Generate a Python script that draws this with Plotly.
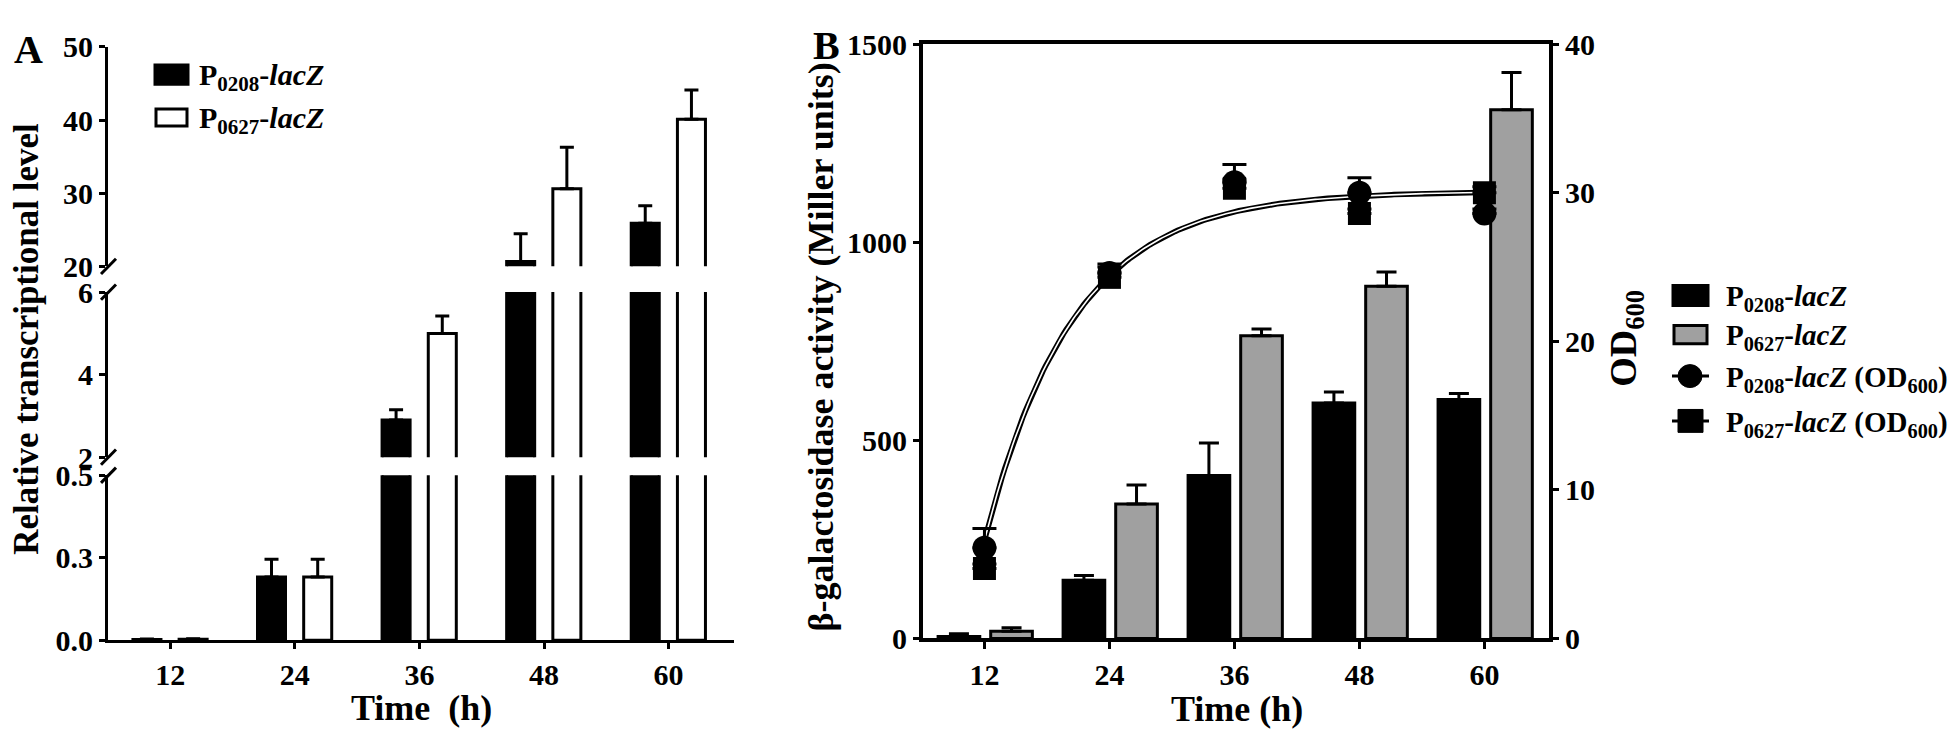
import numpy as np
import plotly.graph_objects as go

# ---------------- data ----------------
time_h = [12, 24, 36, 48, 60]
time_labels = ["12", "24", "36", "48", "60"]

# Panel A: relative transcriptional level
a_p0208 = [0.003, 0.23, 2.9, 20.65, 25.9]
a_p0208_err = [0.002, 0.065, 0.25, 3.8, 2.4]
a_p0627 = [0.004, 0.23, 5.0, 30.6, 40.1]
a_p0627_err = [0.002, 0.065, 0.42, 5.7, 4.0]

# Panel A broken y axis segments (range, tick values, tick labels)
seg_lower_range = [0, 0.6]
seg_lower_ticks = [0, 0.3, 0.6]
seg_lower_text = ["0.0", "0.3", "0.5"]
seg_mid_range = [2, 6]
seg_mid_ticks = [2, 4, 6]
seg_mid_text = ["2", "4", "6"]
seg_up_range = [20, 50]
seg_up_ticks = [20, 30, 40, 50]
seg_up_text = ["20", "30", "40", "50"]

# Panel B: beta-galactosidase activity (Miller units)
b_p0208 = [5, 147, 411, 594, 603]
b_p0208_err = [7, 12, 82, 28, 15]
b_p0627 = [18, 339, 764, 889, 1334]
b_p0627_err = [9, 48, 17, 36, 94]
b_left_ticks = [0, 500, 1000, 1500]

# Panel B: OD600
od_p0208 = [6.1, 24.6, 30.7, 30.0, 28.6]
od_p0208_err = [1.3, 0.6, 1.2, 1.0, 0.3]
od_p0627 = [4.7, 24.3, 30.3, 28.6, 30.0]
od_p0627_err = [0.3, 0.7, 0.6, 0.3, 0.4]
b_right_ticks = [0, 10, 20, 30, 40]

# growth-curve fit parameters (one-phase association)
fit_y0, fit_ymax, fit_k, fit_t0, fit_t1 = 6.6, 30.1, 0.118, 12, 60.6

# ---------------- helpers ----------------
W, H = 1960, 739
FONT = "Liberation Serif"


def fx(px):
    return px / W


def fy(py):
    return 1 - py / H


def tfont(size):
    return dict(family=FONT, size=size, color="black", weight="bold")


fig = go.Figure()

# ---------------- Panel A ----------------
for yax in ["y", "y2", "y3"]:
    fig.add_trace(go.Bar(
        x=time_h, y=a_p0208, xaxis="x", yaxis=yax, offset=-3.6, width=2.7,
        marker=dict(color="black", line=dict(color="black", width=3)),
        error_y=dict(type="data", array=a_p0208_err, arrayminus=[0] * 5, symmetric=False,
                     color="black", thickness=3, width=7),
        name="P0208-lacZ", showlegend=False))
    fig.add_trace(go.Bar(
        x=time_h, y=a_p0627, xaxis="x", yaxis=yax, offset=0.85, width=2.7,
        marker=dict(color="white", line=dict(color="black", width=3)),
        error_y=dict(type="data", array=a_p0627_err, arrayminus=[0] * 5, symmetric=False,
                     color="black", thickness=3, width=7),
        name="P0627-lacZ", showlegend=False))

# ---------------- Panel B ----------------
fig.add_trace(go.Bar(
    x=time_h, y=b_p0208, xaxis="x2", yaxis="y4", offset=-4.45, width=4.0,
    marker=dict(color="black", line=dict(color="black", width=3)),
    error_y=dict(type="data", array=b_p0208_err, arrayminus=[0] * 5, symmetric=False,
                 color="black", thickness=3, width=10),
    name="P0208-lacZ", showlegend=False))
fig.add_trace(go.Bar(
    x=time_h, y=b_p0627, xaxis="x2", yaxis="y4", offset=0.6, width=4.0,
    marker=dict(color="#a0a0a0", line=dict(color="black", width=3)),
    error_y=dict(type="data", array=b_p0627_err, arrayminus=[0] * 5, symmetric=False,
                 color="black", thickness=3, width=10),
    name="P0627-lacZ", showlegend=False))

t_fit = np.linspace(fit_t0, fit_t1, 200)
od_fit = fit_ymax - (fit_ymax - fit_y0) * np.exp(-fit_k * (t_fit - fit_t0))
fig.add_trace(go.Scatter(x=t_fit, y=od_fit, xaxis="x2", yaxis="y5", mode="lines",
                         line=dict(color="black", width=5.5), showlegend=False, hoverinfo="skip"))
fig.add_trace(go.Scatter(x=t_fit, y=od_fit, xaxis="x2", yaxis="y5", mode="lines",
                         line=dict(color="white", width=1.6), showlegend=False, hoverinfo="skip"))

fig.add_trace(go.Scatter(
    x=time_h, y=od_p0627, xaxis="x2", yaxis="y5", mode="markers",
    marker=dict(symbol="square", size=23, color="black"),
    error_y=dict(type="data", array=od_p0627_err, arrayminus=[0] * 5, symmetric=False,
                 color="black", thickness=3, width=12),
    name="P0627-lacZ (OD600)", showlegend=False))
fig.add_trace(go.Scatter(
    x=time_h, y=od_p0208, xaxis="x2", yaxis="y5", mode="markers",
    marker=dict(symbol="circle", size=24, color="black"),
    error_y=dict(type="data", array=od_p0208_err, arrayminus=[0] * 5, symmetric=False,
                 color="black", thickness=3, width=12),
    name="P0208-lacZ (OD600)", showlegend=False))

# ---------------- axes ----------------
common = dict(showgrid=False, zeroline=False, showline=True, linecolor="black",
              ticks="outside", tickcolor="black", tickfont=tfont(30))

fig.update_layout(
    width=W, height=H, margin=dict(l=0, r=0, t=0, b=0),
    paper_bgcolor="white", plot_bgcolor="white", showlegend=False, barmode="overlay",
    font=dict(family=FONT, color="black"),
    xaxis=dict(domain=[fx(100), fx(726)], range=[6, 66.3], anchor="y",
               tickvals=time_h, ticktext=time_labels, linewidth=3, ticklen=6, tickwidth=3,
               **common),
    yaxis=dict(domain=[fy(645), fy(472)], range=seg_lower_range, anchor="x",
               tickvals=seg_lower_ticks, ticktext=seg_lower_text,
               linewidth=3, ticklen=6, tickwidth=3, **common),
    yaxis2=dict(domain=[fy(453), fy(280)], range=seg_mid_range, anchor="x",
                tickvals=seg_mid_ticks, ticktext=seg_mid_text,
                linewidth=3, ticklen=6, tickwidth=3, **common),
    yaxis3=dict(domain=[fy(253), fy(23)], range=seg_up_range, anchor="x",
                tickvals=seg_up_ticks, ticktext=seg_up_text,
                linewidth=3, ticklen=6, tickwidth=3, **common),
    xaxis2=dict(domain=[fx(915), fx(1541)], range=[6.1, 66.2], anchor="y4",
                tickvals=time_h, ticktext=time_labels, linewidth=4, ticklen=7, tickwidth=3,
                mirror=True, **common),
    yaxis4=dict(domain=[fy(643), fy(20)], range=[0, 1500], anchor="x2",
                tickvals=b_left_ticks, linewidth=4, ticklen=6, tickwidth=3, **common),
    yaxis5=dict(domain=[fy(643), fy(20)], range=[0, 40], anchor="x2", overlaying="y4",
                side="right", tickvals=b_right_ticks, linewidth=4, ticklen=6, tickwidth=3,
                **common),
)

# ---------------- decorations ----------------
shapes = []
# axis break marks on panel A
for py in [253, 280, 453, 472]:
    shapes.append(dict(type="line", xref="paper", yref="paper",
                       x0=fx(93), y0=fy(py + 8), x1=fx(108), y1=fy(py - 8),
                       line=dict(color="black", width=3)))
# legend A
shapes.append(dict(type="rect", xref="paper", yref="paper", x0=fx(147), y0=fy(62), x1=fx(180), y1=fy(42),
                   fillcolor="black", line=dict(color="black", width=3)))
shapes.append(dict(type="rect", xref="paper", yref="paper", x0=fx(148), y0=fy(106), x1=fx(179), y1=fy(88),
                   fillcolor="white", line=dict(color="black", width=3)))
# legend B
shapes.append(dict(type="rect", xref="paper", yref="paper", x0=fx(1665), y0=fy(294), x1=fx(1700), y1=fy(273),
                   fillcolor="black", line=dict(color="black", width=3)))
shapes.append(dict(type="rect", xref="paper", yref="paper", x0=fx(1666), y0=fy(334), x1=fx(1699), y1=fy(315),
                   fillcolor="#a0a0a0", line=dict(color="black", width=3)))
shapes.append(dict(type="line", xref="paper", yref="paper", x0=fx(1664), y0=fy(368), x1=fx(1701), y1=fy(368),
                   line=dict(color="black", width=3)))
shapes.append(dict(type="circle", xref="paper", yref="paper", x0=fx(1670), y0=fy(380), x1=fx(1694), y1=fy(356),
                   fillcolor="black", line=dict(color="black", width=1)))
shapes.append(dict(type="line", xref="paper", yref="paper", x0=fx(1664), y0=fy(415), x1=fx(1701), y1=fy(415),
                   line=dict(color="black", width=3)))
shapes.append(dict(type="rect", xref="paper", yref="paper", x0=fx(1670), y0=fy(427), x1=fx(1695), y1=fy(403),
                   fillcolor="black", line=dict(color="black", width=1)))
fig.update_layout(shapes=shapes)


def ann(text, px, py, size, angle=0, xanchor="center"):
    return dict(text=text, x=fx(px), y=fy(py), xref="paper", yref="paper",
                showarrow=False, xanchor=xanchor, yanchor="middle",
                textangle=angle, font=tfont(size))


annotations = [
    ann("A", 20, 26, 40),
    ann("B", 818, 22, 40),
    ann("Relative transcriptional level", 19, 329, 35, angle=-90),
    ann("Time\u00a0\u00a0(h)", 413, 716, 36),
    ann("Time (h)", 1229, 717, 36),
    ann("\u03b2-galactosidase activity (Miller units)", 813, 338, 36, angle=-90),
    ann("OD<sub>600</sub>", 1618, 329, 38, angle=-90),
    ann("P<sub>0208</sub>-<i>lacZ</i>", 189, 55, 30, xanchor="left"),
    ann("P<sub>0627</sub>-<i>lacZ</i>", 189, 100, 30, xanchor="left"),
    ann("P<sub>0208</sub>-<i>lacZ</i>", 1716, 286, 29, xanchor="left"),
    ann("P<sub>0627</sub>-<i>lacZ</i>", 1716, 327, 29, xanchor="left"),
    ann("P<sub>0208</sub>-<i>lacZ</i> (OD<sub>600</sub>)", 1716, 371, 29, xanchor="left"),
    ann("P<sub>0627</sub>-<i>lacZ</i> (OD<sub>600</sub>)", 1716, 418, 29, xanchor="left"),
]
fig.update_layout(annotations=annotations)

fig.write_html("out.html")
